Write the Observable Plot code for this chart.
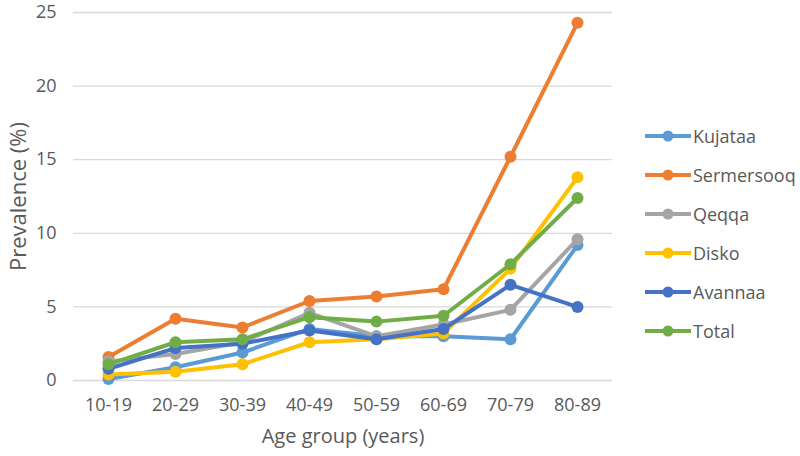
<!DOCTYPE html>
<html><head><meta charset="utf-8">
<script src="https://cdn.jsdelivr.net/npm/d3@7"></script>
<script src="https://cdn.jsdelivr.net/npm/@observablehq/plot@0.6"></script>
<style>
body{margin:0;background:#fff;font-family:"Open Sans",Calibri,"Liberation Sans",sans-serif;}
#wrap{position:relative;width:800px;height:456px;}
#legend{position:absolute;left:645px;top:116px;}
.item{display:flex;align-items:center;height:39px;font-size:18px;color:#595959;}
.item svg{margin-right:2px;}
#chart g[aria-label$="tick label"] text{font-size:18px !important;}
</style></head>
<body><div id="wrap"><div id="chart"></div><div id="legend"></div></div>
<script>
const ageGroups = ["10-19","20-29","30-39","40-49","50-59","60-69","70-79","80-89"];
const seriesNames = ["Kujataa","Sermersooq","Qeqqa","Disko","Avannaa","Total"];
const kujataa    = [0.1, 0.9, 1.9, 3.5, 3.0, 3.0, 2.8, 9.2];
const sermersooq = [1.6, 4.2, 3.6, 5.4, 5.7, 6.2, 15.2, 24.3];
const qeqqa      = [1.3, 1.8, 2.6, 4.6, 3.0, 3.8, 4.8, 9.6];
const disko      = [0.4, 0.6, 1.1, 2.6, 2.8, 3.2, 7.6, 13.8];
const avannaa    = [0.8, 2.2, 2.5, 3.4, 2.8, 3.5, 6.5, 5.0];
const total      = [1.1, 2.6, 2.8, 4.3, 4.0, 4.4, 7.9, 12.4];
const yTicks = [0, 5, 10, 15, 20, 25];
const colors = ["#5B9BD5","#ED7D31","#A5A5A5","#FFC000","#4472C4","#70AD47"];

const allSeries = [kujataa, sermersooq, qeqqa, disko, avannaa, total];
const data = [];
allSeries.forEach((vals, si) => vals.forEach((v, i) => data.push({series: seriesNames[si], age: ageGroups[i], value: v})));

const marks = [
  Plot.ruleY(yTicks, {stroke: "#d9d9d9", strokeWidth: 1.3}),
];
seriesNames.forEach((name, si) => {
  const d = data.filter(r => r.series === name);
  marks.push(Plot.line(d, {x: "age", y: "value", stroke: colors[si], strokeWidth: 4}));
  marks.push(Plot.dot(d, {x: "age", y: "value", fill: colors[si], r: 6}));
});

const chart = Plot.plot({
  width: 800, height: 456,
  marginLeft: 73, marginRight: 188, marginTop: 12, marginBottom: 76,
  style: {fontFamily: '"Open Sans",Calibri,"Liberation Sans",sans-serif', color: "#595959", background: "#fff"},
  x: {type: "point", domain: ageGroups, padding: 0.5, label: null, tickSize: 0},
  y: {domain: [0, 25], ticks: yTicks, label: null, tickSize: 0},
  marks: [
    ...marks,
    Plot.axisX({tickSize: 0, tickPadding: 18, fontSize: 18, fill: "#595959"}),
    Plot.axisY({ticks: yTicks, tickSize: 0, tickPadding: 17, fontSize: 18, fill: "#595959"}),
    Plot.text(["Age group (years)"], {frameAnchor: "bottom", dy: 62, fontSize: 20, fill: "#595959"}),
    Plot.text(["Prevalence (%)"], {frameAnchor: "left", dx: -55, rotate: -90, textAnchor: "middle", fontSize: 22, fill: "#595959"})
  ]
});
document.getElementById("chart").appendChild(chart);

const legend = document.getElementById("legend");
seriesNames.forEach((name, si) => {
  const it = document.createElement("div");
  it.className = "item";
  it.innerHTML = `<svg width="46" height="12"><line x1="0" y1="6" x2="46" y2="6" stroke="${colors[si]}" stroke-width="4"/><circle cx="23" cy="6" r="5.5" fill="${colors[si]}"/></svg><span>${name}</span>`;
  legend.appendChild(it);
});
</script></body></html>
